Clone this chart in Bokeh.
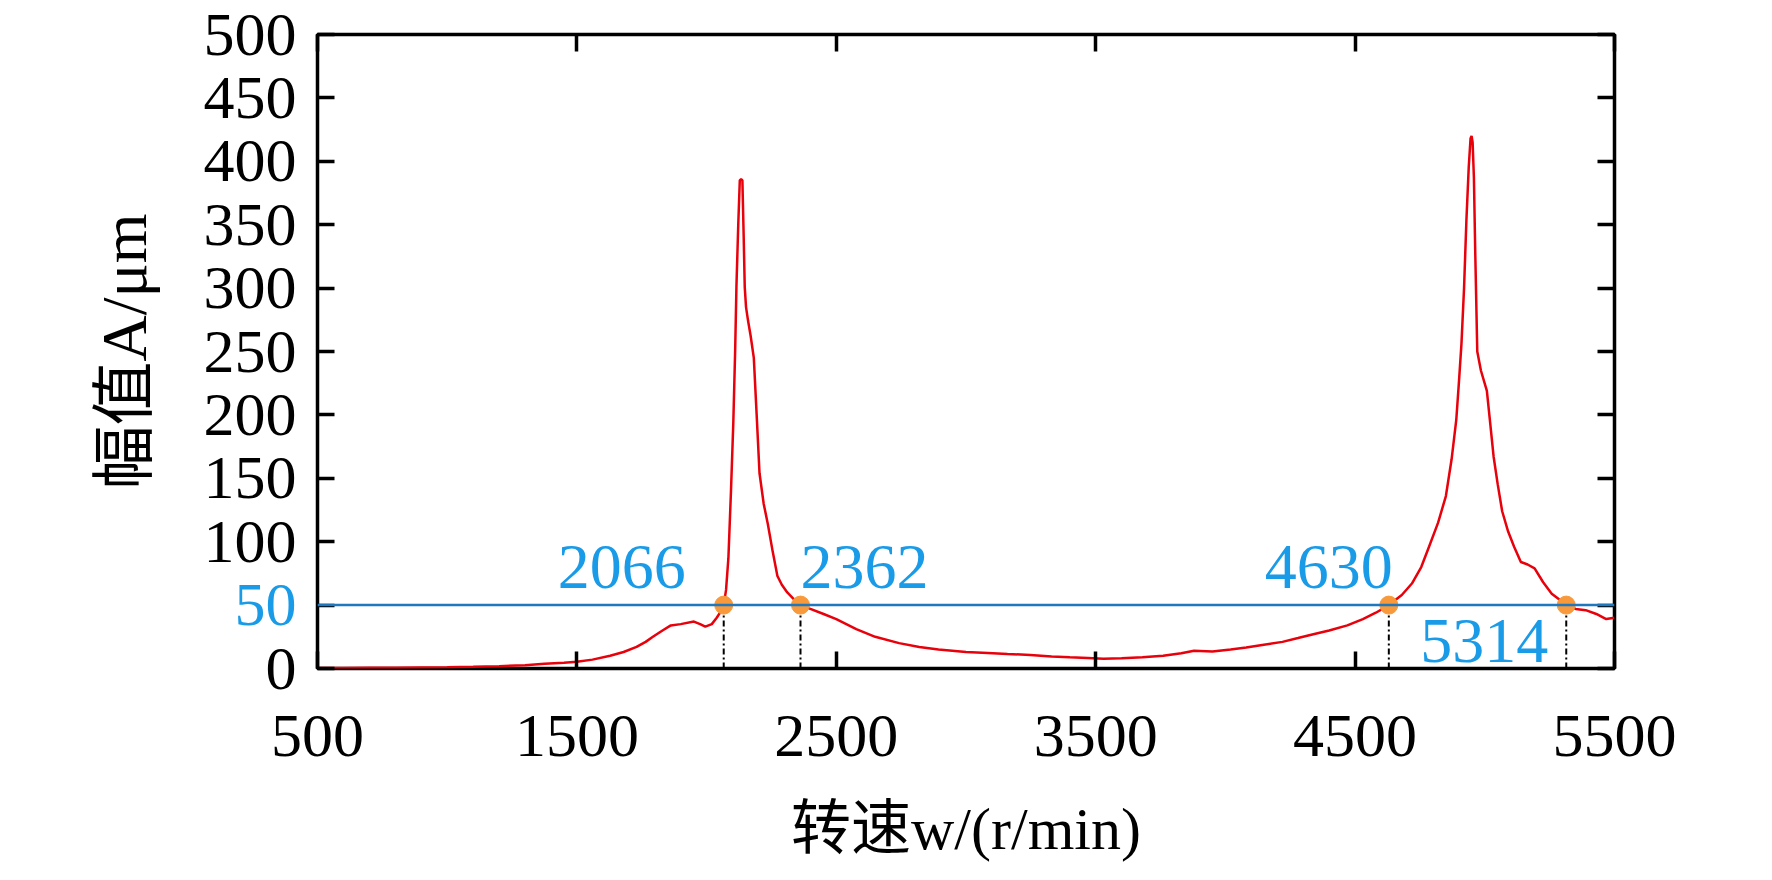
from bokeh.plotting import figure
from bokeh.models import FixedTicker, Span, Label, ColumnDataSource, Range1d, LinearAxis
from bokeh.embed import file_html
from bokeh.resources import INLINE
from bokeh.core.properties import value

# ---------------- data ----------------
speed = [500, 600, 700, 800, 900, 1000, 1100, 1200, 1300, 1375, 1450, 1500, 1560, 1628,
         1680, 1730, 1765, 1793, 1830, 1862, 1900, 1951, 1975, 1995, 2020, 2039, 2055,
         2066, 2075, 2084, 2094, 2103, 2110, 2115, 2122, 2128, 2133, 2138, 2143, 2147,
         2152, 2160, 2170, 2182, 2193, 2204, 2220, 2236, 2255, 2273, 2290, 2311, 2335,
         2362, 2400, 2451, 2500, 2577, 2650, 2742, 2820, 2894, 3000, 3084, 3160, 3248,
         3330, 3400, 3470, 3530, 3600, 3680, 3760, 3830, 3879, 3950, 4020, 4080, 4142,
         4220, 4280, 4339, 4400, 4470, 4530, 4580, 4630, 4680, 4719, 4755, 4785, 4820,
         4850, 4872, 4890, 4900, 4910, 4920, 4929, 4938, 4945, 4949, 4953, 4958, 4963,
         4971, 4985, 5008, 5020, 5034, 5050, 5067, 5090, 5113, 5139, 5165, 5192, 5225,
         5258, 5290, 5314, 5350, 5389, 5430, 5468, 5500]
amplitude = [0.3, 0.4, 0.5, 0.6, 0.8, 1.0, 1.3, 1.8, 2.6, 3.8, 4.6, 5.3, 7, 10,
             13, 17, 21, 25, 30, 34, 35, 37, 35, 33, 35, 40, 45,
             50, 62, 87, 140, 194, 250, 301, 350, 385, 386, 385, 340, 301,
             285, 274, 262, 245, 200, 154, 130, 114, 92, 73, 66, 60, 55,
             50, 47, 43, 39, 31, 25, 20, 17, 15, 13, 12.3, 11.5, 10.7,
             9.5, 8.8, 8.2, 7.6, 8.0, 8.8, 10, 12, 14, 13.5, 15, 16.5, 18.6,
             21, 24, 27, 30, 34, 39, 44, 50, 58, 67, 80, 96, 115,
             136, 165, 196, 225, 256, 300, 353, 395, 418, 420, 415, 387, 330,
             250, 235, 219, 195, 167, 145, 124, 108, 96, 84, 82, 79, 68,
             59, 54, 50, 47, 46, 43, 39, 40]

cross_speed = [2066, 2362, 4630, 5314]
cross_amp = [50, 50, 50, 50]
threshold = 50

x_ticks = [500, 1500, 2500, 3500, 4500, 5500]
y_ticks = [0, 50, 100, 150, 200, 250, 300, 350, 400, 450, 500]
x_title = "转速w/(r/min)"
y_title = "幅值A/μm"

# ---------------- styles ----------------
SERIF = "Liberation Serif, Noto Sans CJK SC"
RED = "#e8000b"
LINE_BLUE = "#1f78be"
TEXT_BLUE = "#1a9be8"
ORANGE = "#f89a3c"

p = figure(width=1756, height=864, output_backend="svg", toolbar_location=None,
           x_range=Range1d(x_ticks[0], x_ticks[-1]), y_range=Range1d(y_ticks[0], y_ticks[-1]),
           min_border_left=317, min_border_right=142, min_border_top=34,
           min_border_bottom=196)
p.grid.visible = False
p.outline_line_color = "black"
p.outline_line_width = 3.5
p.background_fill_color = "white"
p.border_fill_color = "white"

def style_axis(ax, ticks, labels=True):
    ax.ticker = FixedTicker(ticks=ticks)
    ax.axis_line_color = None
    ax.major_tick_in = 17
    ax.major_tick_out = 0
    ax.major_tick_line_width = 3.5
    ax.major_tick_line_color = "black"
    ax.minor_tick_line_color = None
    ax.major_label_text_font = SERIF
    ax.major_label_text_color = "black"
    ax.axis_label_text_font = SERIF
    ax.axis_label_text_color = "black"
    ax.axis_label_text_font_style = "normal"
    if labels:
        ax.major_label_text_font_size = "62px"
    else:
        ax.major_label_text_font_size = "0px"
        ax.major_label_standoff = 0

xa = p.xaxis[0]
style_axis(xa, x_ticks)
xa.major_label_standoff = 47
xa.axis_label = x_title
xa.axis_label_text_font_size = "60px"
xa.axis_label_standoff = 37

ya = p.yaxis[0]
style_axis(ya, y_ticks)
ya.major_label_standoff = 21
ya.major_label_overrides = {threshold: ""}
ya.axis_label = y_title
ya.axis_label_text_font_size = "64px"
ya.axis_label_standoff = 41

top = LinearAxis()
style_axis(top, x_ticks, labels=False)
p.add_layout(top, "above")
right = LinearAxis()
style_axis(right, y_ticks, labels=False)
p.add_layout(right, "right")

# threshold line
p.add_layout(Span(location=threshold, dimension="width", line_color=LINE_BLUE, line_width=2.5))

# blue "50" tick label, placed in the left side panel so it is not clipped by the frame
p.add_layout(Label(x=x_ticks[0], y=threshold, x_offset=-21, text=str(threshold),
                   text_align="right", text_baseline="middle", text_font=SERIF,
                   text_font_size="62px", text_color=TEXT_BLUE), "left")

# response curve
p.line(speed, amplitude, line_color=RED, line_width=2.5)

# drop lines
p.segment(x0=cross_speed, y0=[y_ticks[0]] * len(cross_speed), x1=cross_speed, y1=cross_amp,
          line_color="black", line_width=2, line_dash="6 3 2 3")

# crossing points
p.scatter(cross_speed, cross_amp, size=18, fill_color=ORANGE, line_color=ORANGE)

# crossing labels
src = ColumnDataSource(dict(
    x=cross_speed, y=cross_amp, t=[str(v) for v in cross_speed],
    xo=[-38, 0, 4, -18], yo=[-38, -38, -38, 36],
    al=["right", "left", "right", "right"]))
p.text(x="x", y="y", text="t", x_offset="xo", y_offset="yo", text_align="al",
       text_baseline="middle", text_font=value(SERIF), text_font_size="64px",
       text_color=TEXT_BLUE, source=src)

open("out.html", "w").write(file_html(p, INLINE))
